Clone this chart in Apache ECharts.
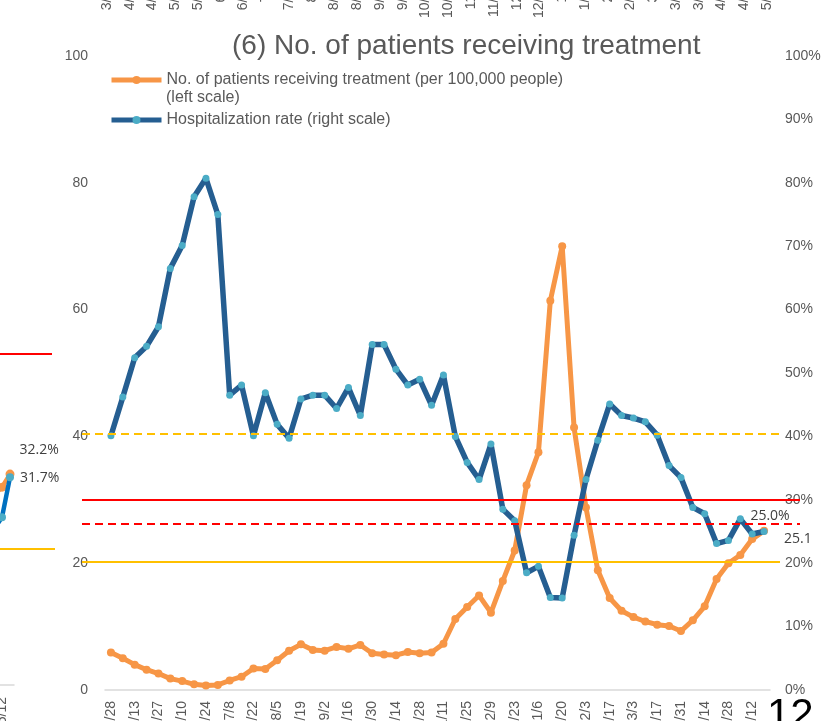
<!DOCTYPE html>
<html>
<head>
<meta charset="utf-8">
<script src="https://cdn.jsdelivr.net/npm/echarts@6/dist/echarts.min.js"></script>
<style>
  html, body { margin: 0; padding: 0; background: #ffffff; }
  #chart { width: 833px; height: 721px; }
</style>
</head>
<body>
<div id="chart"></div>
<script>
// weekly dates, labels shown every other week
const weeks = [
  "4/28", "5/6", "5/13", "5/20", "5/27", "6/3", "6/10", "6/17", "6/24", "7/1",
  "7/8", "7/15", "7/22", "7/29", "8/5", "8/12", "8/19", "8/26", "9/2", "9/9",
  "9/16", "9/23", "9/30", "10/7", "10/14", "10/21", "10/28", "11/4", "11/11", "11/18",
  "11/25", "12/2", "12/9", "12/16", "12/23", "12/30", "1/6", "1/13", "1/20", "1/27",
  "2/3", "2/10", "2/17", "2/24", "3/3", "3/10", "3/17", "3/24", "3/31", "4/7",
  "4/14", "4/21", "4/28", "5/5", "5/12", "5/19"
];
// patients receiving treatment per 100,000 people (left scale)
const patients = [
  5.9, 5.0, 4.0, 3.2, 2.6, 1.8, 1.4, 0.9, 0.7, 0.8,
  1.5, 2.1, 3.4, 3.3, 4.7, 6.2, 7.2, 6.3, 6.2, 6.8,
  6.5, 7.1, 5.8, 5.6, 5.5, 6.0, 5.8, 5.9, 7.3, 11.2,
  13.1, 14.9, 12.2, 17.2, 22.0, 32.3, 37.5, 61.4, 70.0, 41.4,
  28.8, 18.9, 14.5, 12.5, 11.5, 10.8, 10.3, 10.1, 9.3, 11.0,
  13.2, 17.5, 20.0, 21.3, 23.8, 25.1
];
// hospitalization rate, % (right scale)
const hospRate = [
  40.1, 46.2, 52.4, 54.2, 57.3, 66.5, 70.1, 77.8, 80.7, 75.0,
  46.5, 48.1, 40.1, 46.9, 41.9, 39.7, 45.9, 46.5, 46.5, 44.4,
  47.7, 43.3, 54.5, 54.5, 50.6, 48.1, 49.0, 44.9, 49.7, 40.0,
  35.9, 33.2, 38.8, 28.5, 26.7, 18.5, 19.5, 14.6, 14.5, 24.4,
  33.2, 39.4, 45.1, 43.3, 42.9, 42.3, 40.2, 35.4, 33.5, 28.8,
  27.8, 23.1, 23.6, 27.0, 24.6, 25.0
];
// stage threshold lines
const stageIVPatients = 30;
const stageIVRate = 26.3;
const stageIIIRate = 40.4;
const stageIIIPatients = 20.2;

// neighbouring panel (5), only its right edge is in view
const prevWeeks = ["4/28", "5/5", "5/12", "5/19"];
const prevOrange = [28.0, 29.0, 30.2, 32.2];
const prevBlue = [19.0, 23.8, 25.6, 31.7];
const prevStageIV = 50.5;
const prevStageIII = 20.8;

// axis labels of the panel above, cut by the page edge
const upperLabels = [
  "3/31", "4/14", "4/28", "5/12", "5/26", "6/9", "6/23", "7/7", "7/21", "8/4",
  "8/18", "8/31", "9/14", "9/28", "10/12", "10/26", "11/9", "11/23", "12/7", "12/21",
  "1/4", "1/18", "2/1", "2/15", "3/1", "3/15", "3/29", "4/12", "4/26", "5/10"
];

const textGray = "#595959";
const labelDark = "#404040";
const orange = "#F79646";
const navy = "#255E91";
const marker = "#4BACC6";
const red = "#FF0000";
const amber = "#FFC000";
const font = "Liberation Sans";

const orangeName = "No. of patients receiving treatment (per 100,000 people)";
const blueName = "Hospitalization rate (right scale)";

const chart = echarts.init(document.getElementById("chart"), null, { renderer: "canvas" });

const mainBox = { top: 56, bottom: 31 };
const prevBox = { top: 30, bottom: 36 };
const free = { outerBoundsMode: "none", containLabel: false };

const grids = [
  { left: 105, right: 63, ...mainBox, ...free },              // 0 main
  { left: 95.6, right: 54.6, top: -300, height: 275, ...free }, // 1 panel above
  { left: -18, width: 32, ...prevBox, ...free },               // 2 panel (5)
  { left: 82, right: 33, ...mainBox, ...free },               // 3 red lines
  { left: 82, right: 53, ...mainBox, ...free },               // 4 amber lines
  { left: -10, width: 62, ...prevBox, ...free },               // 5 panel (5) red
  { left: -10, width: 65, ...prevBox, ...free }                // 6 panel (5) amber
];

const xAxes = [
  {
    gridIndex: 0, type: "category", data: weeks, boundaryGap: true,
    axisLine: { lineStyle: { color: "#D9D9D9", width: 1.5 } },
    axisTick: { show: false },
    axisLabel: { interval: 1, rotate: 90, margin: 11, color: textGray, fontSize: 14, fontFamily: font }
  },
  {
    gridIndex: 1, type: "category", data: upperLabels, boundaryGap: true,
    axisLine: { show: false }, axisTick: { show: false },
    axisLabel: { interval: 0, rotate: 90, margin: 8, color: textGray, fontSize: 14, fontFamily: font }
  },
  {
    gridIndex: 2, type: "category", data: prevWeeks, boundaryGap: true,
    axisLine: { lineStyle: { color: "#D9D9D9", width: 1.5 } },
    axisTick: { show: false },
    axisLabel: { interval: 1, rotate: 90, margin: 12, color: textGray, fontSize: 14, fontFamily: font }
  }
];
const yAxes = [
  {
    gridIndex: 0, type: "value", min: 0, max: 100, interval: 20, position: "left",
    axisLine: { show: false }, axisTick: { show: false }, splitLine: { show: false },
    axisLabel: { margin: 17, color: textGray, fontSize: 14, fontFamily: font }
  },
  {
    gridIndex: 0, type: "value", min: 0, max: 100, interval: 10, position: "right",
    axisLine: { show: false }, axisTick: { show: false }, splitLine: { show: false },
    axisLabel: { margin: 15, color: textGray, fontSize: 14, fontFamily: font, formatter: "{value}%" }
  },
  { gridIndex: 1, type: "value", min: 0, max: 1, show: false },
  { gridIndex: 2, type: "value", min: 0, max: 100, show: false }
];

const series = [];

function refLines(gridIndex, lines) {
  const xi = xAxes.length;
  const yi = yAxes.length;
  xAxes.push({ gridIndex, type: "value", min: 0, max: 1, show: false });
  yAxes.push({ gridIndex, type: "value", min: 0, max: 100, show: false });
  series.push({
    type: "line", xAxisIndex: xi, yAxisIndex: yi, data: [], silent: true,
    markLine: {
      silent: true, symbol: "none", animation: false,
      label: { show: false },
      data: lines.map(([value, color, type]) => ({
        yAxis: value,
        lineStyle: { color, width: 2, type: type === "dashed" ? [8, 5] : "solid" }
      }))
    }
  });
}

refLines(3, [[stageIVPatients, red, "solid"], [stageIVRate, red, "dashed"]]);
refLines(4, [[stageIIIRate, amber, "dashed"], [stageIIIPatients, amber, "solid"]]);
refLines(5, [[prevStageIV, red, "solid"]]);
refLines(6, [[prevStageIII, amber, "solid"]]);

function lastLabel(values, label) {
  return values.map((v, i) => (i === values.length - 1 ? { value: v, label } : v));
}

const labelText = { color: labelDark, fontSize: 14, fontFamily: "Open Sans" };

series.push(
  {
    name: orangeName, type: "line", xAxisIndex: 0, yAxisIndex: 0,
    data: lastLabel(patients, {
      show: true, position: "right", offset: [11, 8], ...labelText,
      formatter: (p) => p.value.toFixed(1)
    }),
    symbol: "circle", symbolSize: 8, showAllSymbol: true,
    lineStyle: { color: orange, width: 5 },
    itemStyle: { color: orange },
    z: 3
  },
  {
    name: blueName, type: "line", xAxisIndex: 0, yAxisIndex: 1,
    data: lastLabel(hospRate, {
      show: true, position: "top", offset: [6, 0], ...labelText,
      formatter: (p) => p.value.toFixed(1) + "%"
    }),
    symbol: "circle", symbolSize: 7, showAllSymbol: true,
    lineStyle: { color: navy, width: 5.5 },
    itemStyle: { color: marker },
    z: 4
  },
  {
    name: "prev-orange", type: "line", xAxisIndex: 2, yAxisIndex: 3,
    data: lastLabel(prevOrange, {
      show: true, position: "right", offset: [0, -24], ...labelText,
      formatter: (p) => p.value.toFixed(1) + "%"
    }),
    symbol: "circle", symbolSize: 9, showAllSymbol: true,
    lineStyle: { color: orange, width: 4.5 },
    itemStyle: { color: orange },
    z: 3
  },
  {
    name: "prev-blue", type: "line", xAxisIndex: 2, yAxisIndex: 3,
    data: lastLabel(prevBlue, {
      show: true, position: "right", offset: [1, 1], ...labelText,
      formatter: (p) => p.value.toFixed(1) + "%"
    }),
    symbol: "circle", symbolSize: 8, showAllSymbol: true,
    lineStyle: { color: "#0070C0", width: 4.5 },
    itemStyle: { color: marker },
    z: 4
  }
);

chart.setOption({
  animation: false,
  backgroundColor: "#ffffff",
  textStyle: { fontFamily: font },
  title: {
    text: "(6) No. of patients receiving treatment",
    left: 232, top: 32, padding: 0,
    textStyle: { color: textGray, fontSize: 28, fontWeight: "normal", fontFamily: font }
  },
  legend: {
    data: [
      { name: orangeName, lineStyle: { width: 5 } },
      { name: blueName, lineStyle: { width: 5 } }
    ],
    orient: "vertical", left: 104, top: 67, itemWidth: 50, itemHeight: 10, itemGap: 24,
    textStyle: { color: textGray, fontSize: 16, fontFamily: font },
    selectedMode: false
  },
  graphic: [
    {
      type: "text", left: 166, top: 90,
      style: { text: "(left scale)", fill: textGray, font: "16px " + font }
    },
    {
      type: "text", left: 767, top: 695,
      style: { text: "12", fill: "#000000", font: "42px " + font }
    }
  ],
  grid: grids,
  xAxis: xAxes,
  yAxis: yAxes,
  series
});
</script>
</body>
</html>
